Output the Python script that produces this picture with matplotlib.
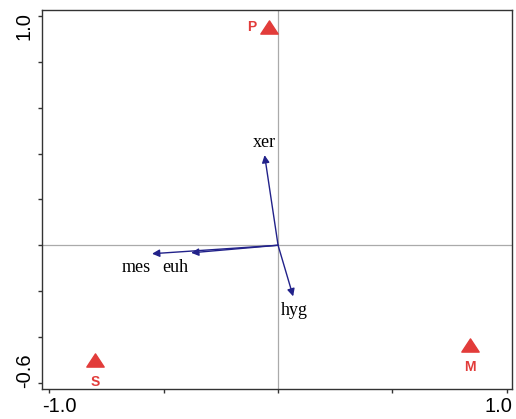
import numpy as np
import matplotlib.pyplot as plt
import matplotlib.transforms as mtransforms
from matplotlib.path import Path

# sample scores (triangles)
site_names = ['P', 'S', 'M']
site_x = [-0.040, -0.800, 0.840]
site_y = [0.952, -0.502, -0.435]

# variable arrows from origin
var_names = ['xer', 'hyg', 'mes', 'euh']
var_x = [-0.059, 0.066, -0.551, -0.380]
var_y = [0.393, -0.223, -0.037, -0.033]

red = '#e23c3a'
navy = '#22228a'

fig = plt.figure(figsize=(5.16, 4.19), dpi=100)
ax = fig.add_axes([0.0814, 0.0716, 0.911, 0.9045])

ax.set_xlim(-1.032, 1.023)
ax.set_ylim(-0.627, 1.026)

# cross through origin
ax.axvline(0, color='#aaaaaa', lw=0.9, zorder=1)
ax.axhline(0, color='#aaaaaa', lw=0.9, zorder=1)

# arrows
for nm, vx, vy in zip(var_names, var_x, var_y):
    ax.annotate('', xy=(vx, vy), xytext=(0, 0),
                arrowprops=dict(arrowstyle='-|>', color=navy, lw=1.0,
                                mutation_scale=11, shrinkA=0, shrinkB=0),
                zorder=3)

serif = dict(family='Liberation Serif', fontsize=13, color='black')
ax.text(var_x[0], var_y[0] + 0.018, var_names[0], ha='center', va='bottom', **serif)
ax.text(var_x[1] + 0.007, var_y[1] - 0.025, var_names[1], ha='center', va='top', **serif)
ax.text(var_x[2] - 0.07, var_y[2] - 0.022, var_names[2], ha='center', va='top', **serif)
ax.text(var_x[3] - 0.07, var_y[3] - 0.026, var_names[3], ha='center', va='top', **serif)

# triangles, a bit wider than tall
tri = Path([(0, 0.76), (-1, -0.76), (1, -0.76), (0, 0.76)],
           [Path.MOVETO, Path.LINETO, Path.LINETO, Path.CLOSEPOLY])
ax.plot(site_x, site_y, linestyle='none', marker=tri, ms=12.5,
        color=red, mec=red, zorder=4)

lab = dict(family='Liberation Sans', fontsize=10, fontweight='bold', color=red)
ax.text(site_x[0] - 0.075, site_y[0], site_names[0], ha='center', va='center', **lab)
ax.text(site_x[1], site_y[1] - 0.095, site_names[1], ha='center', va='center', **lab)
ax.text(site_x[2], site_y[2] - 0.095, site_names[2], ha='center', va='center', **lab)

# frame and ticks
for sp in ax.spines.values():
    sp.set_color('#333333')
    sp.set_linewidth(1.0)
ax.set_xticks(np.linspace(-1.0, 1.0, 5))
ax.set_yticks(np.linspace(-0.6, 1.0, 9))
ax.set_xticklabels(['-1.0', '', '', '', '1.0'])
ax.set_yticklabels(['-0.6', '', '', '', '', '', '', '', '1.0'],
                   rotation=90, va='center')
ax.tick_params(direction='out', length=3, width=1, color='#333333',
               labelsize=14.5, pad=3)

# end labels pulled inward from their ticks
def nudge(label, dx, dy):
    label.set_transform(label.get_transform() +
                        mtransforms.ScaledTranslation(dx / 100, dy / 100, fig.dpi_scale_trans))

xl = ax.get_xticklabels()
yl = ax.get_yticklabels()
nudge(xl[0], 10, 0)
nudge(xl[-1], -8, 0)
nudge(yl[0], 0, 12)
nudge(yl[-1], 0, -10)
for t in xl + yl:
    t.set_family('Liberation Sans')

fig.savefig('out.png', dpi=100)
